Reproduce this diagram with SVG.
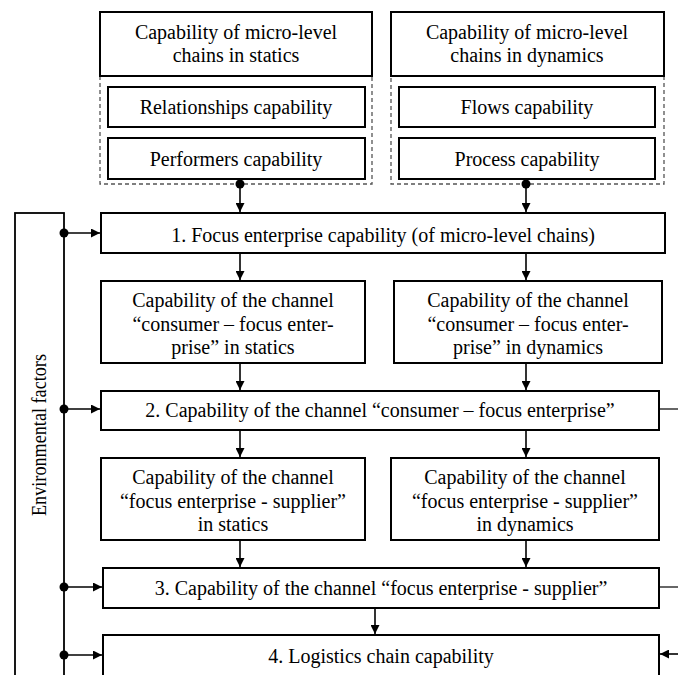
<svg xmlns="http://www.w3.org/2000/svg" width="678" height="675" viewBox="0 0 678 675">
<style>
.box{fill:#fff;stroke:#000;stroke-width:2}
.dash{fill:none;stroke:#555;stroke-width:1.3;stroke-dasharray:4 3}
.t{font-family:"Liberation Serif","Times New Roman",serif;font-size:20px;fill:#000;text-anchor:middle}
.ln{fill:none;stroke:#000;stroke-width:1.6}
.dot{fill:#000}
</style>
<defs>
<marker id="ah" markerUnits="userSpaceOnUse" markerWidth="10" markerHeight="9" refX="9" refY="4.5" orient="auto">
<path d="M0,0 L9,4.5 L0,9 z" fill="#000"/>
</marker>
</defs>
<rect width="678" height="675" fill="#fff"/>

<g id="statics-group">
<rect class="dash" x="100" y="76" width="272" height="108"/>
<g id="micro-statics"><rect class="box" x="100" y="12" width="272" height="64"/>
<text class="t" x="236" y="39">Capability of micro-level</text>
<text class="t" x="236" y="62">chains in statics</text></g>
<g id="relationships"><rect class="box" x="108" y="87" width="257" height="40"/>
<text class="t" x="236" y="114">Relationships capability</text></g>
<g id="performers"><rect class="box" x="108" y="138" width="257" height="41"/>
<text class="t" x="236" y="166">Performers capability</text></g>
</g>

<g id="dynamics-group">
<rect class="dash" x="391" y="76" width="273" height="108"/>
<g id="micro-dynamics"><rect class="box" x="391" y="12" width="273" height="64"/>
<text class="t" x="527" y="39">Capability of micro-level</text>
<text class="t" x="527" y="62">chains in dynamics</text></g>
<g id="flows"><rect class="box" x="399" y="87" width="256" height="40"/>
<text class="t" x="527" y="114">Flows capability</text></g>
<g id="process"><rect class="box" x="399" y="138" width="256" height="41"/>
<text class="t" x="527" y="166">Process capability</text></g>
</g>

<g id="env">
<rect class="box" x="15" y="213" width="49" height="480" style="stroke-width:1.8"/>
<text class="t" transform="translate(46,435) rotate(-90)" x="0" y="0" textLength="162" lengthAdjust="spacingAndGlyphs">Environmental factors</text>
</g>

<g id="box1"><rect class="box" x="101" y="213" width="564" height="40"/>
<text class="t" x="383" y="242">1. Focus enterprise capability (of micro-level chains)</text></g>

<g id="cons-statics"><rect class="box" x="101" y="281" width="264" height="82"/>
<text class="t" x="233" y="307">Capability of the channel</text>
<text class="t" x="233" y="331">“consumer – focus enter-</text>
<text class="t" x="233" y="354">prise” in statics</text></g>

<g id="cons-dynamics"><rect class="box" x="394" y="281" width="268" height="82"/>
<text class="t" x="528" y="307">Capability of the channel</text>
<text class="t" x="528" y="331">“consumer – focus enter-</text>
<text class="t" x="528" y="354">prise” in dynamics</text></g>

<g id="box2"><rect class="box" x="101" y="391" width="558" height="39"/>
<text class="t" x="380" y="417">2. Capability of the channel “consumer – focus enterprise”</text></g>

<g id="sup-statics"><rect class="box" x="101" y="458" width="264" height="82"/>
<text class="t" x="233" y="484">Capability of the channel</text>
<text class="t" x="233" y="508">“focus enterprise - supplier”</text>
<text class="t" x="233" y="531">in statics</text></g>

<g id="sup-dynamics"><rect class="box" x="391" y="458" width="268" height="82"/>
<text class="t" x="525" y="484">Capability of the channel</text>
<text class="t" x="525" y="508">“focus enterprise - supplier”</text>
<text class="t" x="525" y="531">in dynamics</text></g>

<g id="box3"><rect class="box" x="103" y="568" width="556" height="40"/>
<text class="t" x="381" y="595">3. Capability of the channel “focus enterprise - supplier”</text></g>

<g id="box4"><rect class="box" x="103" y="635" width="556" height="60"/>
<text class="t" x="381" y="663">4. Logistics chain capability</text></g>

<g id="connectors">
<circle class="dot" cx="240" cy="184" r="4.5"/>
<circle class="dot" cx="526" cy="184" r="4.5"/>
<line class="ln" x1="240" y1="184" x2="240" y2="212" marker-end="url(#ah)"/>
<line class="ln" x1="526" y1="184" x2="526" y2="212" marker-end="url(#ah)"/>
<line class="ln" x1="240" y1="253" x2="240" y2="280" marker-end="url(#ah)"/>
<line class="ln" x1="526" y1="253" x2="526" y2="280" marker-end="url(#ah)"/>
<line class="ln" x1="240" y1="363" x2="240" y2="390" marker-end="url(#ah)"/>
<line class="ln" x1="526" y1="363" x2="526" y2="390" marker-end="url(#ah)"/>
<line class="ln" x1="240" y1="430" x2="240" y2="457" marker-end="url(#ah)"/>
<line class="ln" x1="526" y1="430" x2="526" y2="457" marker-end="url(#ah)"/>
<line class="ln" x1="240" y1="540" x2="240" y2="567" marker-end="url(#ah)"/>
<line class="ln" x1="526" y1="540" x2="526" y2="567" marker-end="url(#ah)"/>
<line class="ln" x1="375" y1="608" x2="375" y2="634" marker-end="url(#ah)"/>
<circle class="dot" cx="64" cy="233" r="4.5"/>
<circle class="dot" cx="64" cy="409" r="4.5"/>
<circle class="dot" cx="64" cy="587" r="4.5"/>
<circle class="dot" cx="64" cy="655" r="4.5"/>
<line class="ln" x1="64" y1="233" x2="100" y2="233" marker-end="url(#ah)"/>
<line class="ln" x1="64" y1="409" x2="100" y2="409" marker-end="url(#ah)"/>
<line class="ln" x1="64" y1="587" x2="102" y2="587" marker-end="url(#ah)"/>
<line class="ln" x1="64" y1="655" x2="102" y2="655" marker-end="url(#ah)"/>
<line class="ln" x1="659" y1="409" x2="678" y2="409" style="stroke-width:1.2"/>
<line class="ln" x1="659" y1="587" x2="678" y2="587" style="stroke-width:1.2"/>
<line class="ln" x1="678" y1="654" x2="660" y2="654" marker-end="url(#ah)"/>
</g>
</svg>
